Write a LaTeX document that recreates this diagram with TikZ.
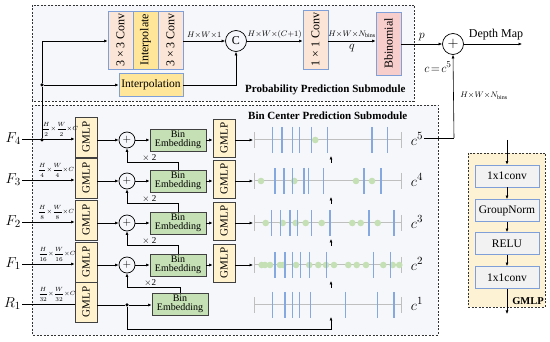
\documentclass[tikz,border=0pt]{standalone}
\usepackage{fontspec}
\setmainfont{Liberation Serif}
\usepackage{amsmath}
\usetikzlibrary{arrows.meta,calc}
\definecolor{peach}{HTML}{FBE5D6}
\definecolor{yel}{HTML}{FFE699}
\definecolor{pinkb}{HTML}{F8CECC}
\definecolor{bblue}{HTML}{7F9FD8}
\definecolor{cream}{HTML}{FFF2CC}
\definecolor{beg}{HTML}{C5E0B4}
\definecolor{tickb}{HTML}{86A8E0}
\definecolor{lgray}{HTML}{BFBFBF}
\definecolor{bgpanel}{HTML}{F6F7FB}
\definecolor{legfill}{HTML}{FDF2D3}
\definecolor{boxgray}{HTML}{F2F2F2}
\begin{document}
\begin{tikzpicture}[x=1pt,y=-1pt,
  ln/.style={line width=0.6pt},
  arr/.style={ln,-{Latex[length=3.5pt,width=3pt]}},
  bx/.style={draw,line width=0.8pt,inner sep=0pt},
  conv/.style={bx,draw=bblue,fill=peach},
  yelbox/.style={bx,draw=bblue,fill=yel},
  gmlp/.style={bx,draw=black!75,fill=cream,minimum width=22pt},
  bebox/.style={bx,draw=black!75,fill=beg,minimum width=56pt,minimum height=22pt,align=center,font=\fontsize{10}{9.5}\selectfont},
  legbox/.style={bx,draw=bblue,fill=boxgray,minimum width=64pt,minimum height=22pt,font=\fontsize{11.5}{12}\selectfont},
  rt/.style={rotate=90,font=\fontsize{12}{12}\selectfont},
  rg/.style={rotate=90,font=\fontsize{11}{11}\selectfont},
  circ/.style={circle,draw,line width=0.7pt,inner sep=0pt},
  dim/.style={font=\fontsize{8}{8}\selectfont,inner sep=0pt},
  fra/.style={font=\fontsize{6.5}{6.5}\selectfont,inner sep=0pt},
  panel/.style={draw=black!80,dash pattern=on 2pt off 1.5pt,line width=0.7pt},
  dotn/.style={circle,fill=black,inner sep=0pt,minimum size=3.5pt},
  title/.style={font=\bfseries\fontsize{11}{11}\selectfont,inner sep=0pt}
]
\useasboundingbox (0,0) rectangle (550,342);
% panels
\draw[panel,fill=bgpanel] (32,5) rectangle (414,101);
\draw[panel,fill=bgpanel] (32,105) rectangle (438,335);
\draw[panel,fill=legfill] (468,153) rectangle (545,307);
\node[title,anchor=west] (tprob) at (245,90) {Probability Prediction Submodule};
\node[title,anchor=west] (tbin) at (248,116) {Bin Center Prediction Submodule};
\node[title,font=\bfseries\fontsize{10.5}{10}\selectfont,anchor=south east] (tg) at (544,305) {GMLP};

% ---------------- top module
\node[conv,minimum width=25pt,minimum height=58pt] (cva) at (120.5,40) {};
\node[rt] at (cva) {3 × 3 Conv};
\node[yelbox,minimum width=25pt,minimum height=58pt] (ipt) at (145.5,40) {};
\node[rt] at (ipt) {Interpolate};
\node[conv,minimum width=25pt,minimum height=58pt] (cvb) at (170.5,40) {};
\node[rt] at (cvb) {3 × 3 Conv};
\node[yelbox,minimum width=64pt,minimum height=23pt,font=\fontsize{11.5}{11}\selectfont] (interp) at (151,85) {Interpolation};
\node[circ,minimum size=21pt,font=\fontsize{12}{12}\selectfont] (cc) at (236,41) {C};
\node[conv,minimum width=25pt,minimum height=59pt] (c11) at (315.5,39.5) {};
\node[rt] at (c11) {1 × 1 Conv};
\node[bx,draw=bblue,fill=pinkb,minimum width=25pt,minimum height=63pt] (bb) at (388.5,43.5) {};
\node[rt] at (bb) {Bbinomial};
\node[circ,minimum size=21pt,font=\fontsize{14}{14}\selectfont] (pl) at (453,44) {$+$};
\coordinate (dm) at (522,44);
\node[font=\fontsize{12}{12}\selectfont] (dmt) at (496,35) {Depth Map};

% F4 tap lines
\node[dotn] (d1) at (42,140) {};
\node[dotn] (d2) at (42,85) {};
\coordinate (up) at (42,41);
\draw[ln] (d1) -- (d2) -- (up);
\draw[arr] (up) -- (cva.west |- up);
\draw[arr] (d2) -- (interp.west);
\draw[arr] (cvb.east |- cc) -- (cc.west) node[midway,above=2.5pt,dim] {$H{\times}W{\times}1$};
\draw[arr] (interp.east) -| (cc.south);
\draw[arr] (cc.east) -- (c11.west |- cc) node[midway,above=2.5pt,dim] {$H{\times}W{\times}(C{+}1)$};
\draw[arr] (c11.east |- cc) -- (bb.west |- cc) node[midway,above=3pt,dim] {$H{\times}W{\times}N_{\mathrm{bins}}$} node[midway,below=3pt,font=\fontsize{12}{12}\selectfont,inner sep=0pt] {$q$};
\draw[arr] (bb.east |- pl) -- (pl.west) node[midway,above=3pt,font=\fontsize{12}{12}\selectfont,inner sep=0pt] {$p$};
\draw[arr] (pl.east) -- (dm);
\node[font=\fontsize{13}{13}\selectfont] (ceq) at (438,67) {$c\!=\!c^5$};

% ---------------- rows
\foreach \r/\n/\lab/\fr/\fx in {140/a/F_4/\dfrac{H}{2}{\times}\dfrac{W}{2}{\times}C/60,
                          181/b/F_3/\dfrac{H}{4}{\times}\dfrac{W}{4}{\times}C/56,
                          223/c/F_2/\dfrac{H}{8}{\times}\dfrac{W}{8}{\times}C/56,
                          265/d/F_1/\dfrac{H}{16}{\times}\dfrac{W}{16}{\times}C/57,
                          305/e/R_1/\dfrac{H}{32}{\times}\dfrac{W}{32}{\times}C/57}{
  \node[gmlp,minimum height=40pt] (g1\n) at (86,\r-3) {};
  \node[rg] at (g1\n) {GMLP};
  \node[font=\fontsize{15}{15}\selectfont,anchor=east,inner sep=1pt] (lab\n) at (22,\r-1) {$\lab$};
  \node[fra] (fr\n) at (\fx,\r-11) {$\fr$};
}
\foreach \r/\n in {140/a,181/b,223/c,265/d}{
  \node[circ,minimum size=16pt,font=\fontsize{11}{11}\selectfont] (p\n) at (127,\r) {$+$};
  \node[bebox] (be\n) at (178,\r) {Bin\\Embedding};
  \node[gmlp,minimum height=38pt] (g2\n) at (224,\r-2) {};
  \node[rg] at (g2\n) {GMLP};
  \coordinate (bs\n) at (253,\r);
  \draw[arr] (g1\n.east |- p\n) -- (p\n.west);
  \draw[arr] (p\n.east) -- (be\n.west);
  \draw[arr] (be\n.east) -- (g2\n.west |- be\n);
  \draw[arr] (g2\n.east |- bs\n) -- (bs\n);
}
\foreach \n in {a,b,c,d}{\draw[arr] (lab\n.east) -- (g1\n.west |- lab\n.east);}
\draw[ln] (labe.east) -- (g1e.west |- labe.east);

\node[bebox] (bee) at (180,304) {Bin\\Embedding};
\node[dotn] (d3) at (127,305) {};
\draw[ln] (g1e.east |- d3) -- (d3);
\draw[arr] (d3) -- (bee.west |- d3);
\coordinate (rb) at (331,329);
\coordinate (rt1) at (331,317);
\draw[arr] (d3) |- (rb) -- (rt1);

% feedback loops
\draw[arr] (beb.north) |- ([yshift=-14pt]pa.south) node[pos=0.78,above=0.5pt,dim,font=\fontsize{9}{9}\selectfont] {$\times$ 2} -- (pa.south);
\draw[arr] (bec.north) |- ([yshift=-14pt]pb.south) node[pos=0.78,above=0.5pt,dim,font=\fontsize{9}{9}\selectfont] {$\times$ 2} -- (pb.south);
\draw[arr] (bed.north) |- ([yshift=-14pt]pc.south) node[pos=0.78,above=0.5pt,dim,font=\fontsize{9}{9}\selectfont] {$\times$ 2} -- (pc.south);
\draw[arr] (bee.north) |- ([yshift=-14pt]pd.south) node[pos=0.78,above=0.5pt,dim,font=\fontsize{9}{9}\selectfont] {$\times$2} -- (pd.south);

% bin lines
\foreach \r/\sup/\blues/\greens in {
  140/5/{272.7,282,292.3,299.7,311.7,327.3,372,387.7}/{315.3},
  181/4/{275,284,292.3,304,308.3,323.3,364,381}/{261,294.3,356,372},
  223/3/{271.7,280.7,290,297.3,311.7,330,369,394}/{265.7,282.7,295.7,305.7,321.7,352.3,360.7,377.7},
  265/2/{275,285,292.7,300.7,309.3,326.7,373.3,390.7}/{261.7,265,270,280,283.3,296,309.3,318.3,326,334,348.3,356.7,366,383.3,392.7,399.3},
  305/1/{272.3,285,292.7,299.3,310.7,345.7,377.7,394}/{}}{
  \draw[lgray,line width=1pt] (254,\r) -- (401,\r);
  \draw[lgray,line width=1pt] (254,\r-8) -- (254,\r+8);
  \draw[lgray,line width=1pt] (401,\r-8) -- (401,\r+8);
  \foreach \g in \greens {\fill[beg] (\g,\r) circle (3.3pt);}
  \foreach \b in \blues {\draw[tickb,line width=1.3pt] (\b,\r-13) -- (\b,\r+13);}
  \node[font=\fontsize{15}{15}\selectfont,inner sep=1pt] (cl\sup) at (417,\r-1) {$c^{\sup}$};
}
% small up arrows
\foreach \y in {156,197,239,281}{
  \coordinate (ua) at (331,\y+7);
  \coordinate (ub) at (331,\y);
  \draw[arr] (ua) -- (ub);
}
% c5 to plus
\coordinate (c5r) at (454,138);
\draw[ln] (cl5.east |- c5r) -- (c5r);
\draw[arr] (c5r) -- (pl.south);
\node[dim] (nb) at (484,96) {$H{\times}W{\times}N_{\mathrm{bins}}$};

% GMLP legend
\node[legbox] (l1) at (507,176) {1x1conv};
\node[legbox] (l2) at (507,210.5) {GroupNorm};
\node[legbox] (l3) at (507,243.5) {RELU};
\node[legbox] (l4) at (507,277.5) {1x1conv};
\coordinate (lin) at (507,140);
\coordinate (lout) at (507,314);
\draw[arr] (lin) -- (l1);
\draw[arr] (l1) -- (l2);
\draw[arr] (l2) -- (l3);
\draw[arr] (l3) -- (l4);
\draw[arr] (l4) -- (lout);
\end{tikzpicture}
\end{document}
